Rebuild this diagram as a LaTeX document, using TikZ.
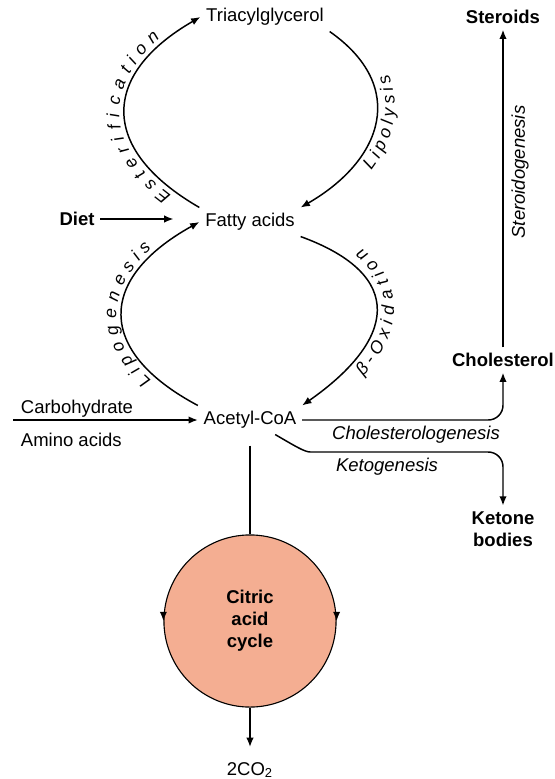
\documentclass[tikz,border=0pt]{standalone}
\usepackage{fontspec}
\setmainfont{Liberation Sans}
\usepackage{xcolor}
\usetikzlibrary{arrows.meta, positioning, decorations.text}

\definecolor{cyclefill}{RGB}{244,174,146}
\newcommand{\arcfont}{\fontsize{9.5}{11}\selectfont\itshape}

\begin{document}
\begin{tikzpicture}[
  x=0.019cm, y=0.019cm,
  >={Latex[length=5pt, width=4pt]},
  metab/.style={font=\fontsize{10}{12}\selectfont, inner sep=3pt},
  product/.style={metab, font=\fontsize{10}{12}\selectfont\bfseries, align=center},
  pathway/.style={font=\fontsize{10}{12}\selectfont\itshape},
  flow/.style={->, line width=0.8pt},
  arclabel/.style={decorate, decoration={text along path, text align={fit to path}, #1}},
]
\useasboundingbox (0,0) rectangle (555,-779);

% metabolites
\node[metab] (tag) at (265,-17) {Triacylglycerol};
\node[metab] (fatty) at (250,-222) {Fatty acids};
\node[metab] (acetyl) at (250,-420) {Acetyl-CoA};

% inputs
\node[product] (diet) at (77,-219) {Diet};
\node[metab, anchor=base west] (carb) at (15,-413) {Carbohydrate};
\node[metab, anchor=base west] (amino) at (15,-446) {Amino acids};
\coordinate (feed) at (13,-420);

% products
\node[product] (steroids) at (503,-17) {Steroids};
\node[product] (chol) at (503,-360) {Cholesterol};
\node[product] (ketone) at (503,-529) {Ketone\\bodies};
\node[circle, draw, line width=0.6pt, fill=cyclefill, minimum size=3.27cm, font=\fontsize{10}{12}\selectfont\bfseries, align=center] (cycle) at (250,-621) {Citric\\acid\\cycle};
\node[metab] (co2) at (250,-770) {2CO\textsubscript{2}};
\coordinate (ketobend) at (325,-452);

% lipid cycle
\draw[flow] (fatty.north west) to[out=150, in=210, looseness=1.55] (tag.west);
\draw[flow] (tag.south east) to[out=-35, in=30, looseness=1.37] (fatty.north east);
\draw[flow] (acetyl.north west) to[out=152, in=209, looseness=1.62] (fatty.west);
\draw[flow] (fatty.south east) to[out=-20, in=35, looseness=1.72] (acetyl.north east);

% arc labels
\path[arclabel={text={|\arcfont|Esterification}, raise=3pt, text align={left indent=16pt, right indent=24pt}}]
  (fatty.north west) to[out=150, in=210, looseness=1.55] (tag.west);
\path[arclabel={text={|\arcfont|Lipolysis}, raise=-9.5pt, text align={left indent=40pt, right indent=35pt}}]
  (fatty.north east) to[out=30, in=-35, looseness=1.37] (tag.south east);
\path[arclabel={text={|\arcfont|Lipogenesis}, raise=3pt, text align={left indent=28pt, right indent=29pt}}]
  (acetyl.north west) to[out=152, in=209, looseness=1.62] (fatty.west);
\path[arclabel={text={|\arcfont|β-Oxidation}, raise=-9.5pt, text align={left indent=34pt, right indent=30pt}}]
  (acetyl.north east) to[out=35, in=-20, looseness=1.72] (fatty.south east);

% feeds
\draw[flow, shorten >=14pt] (diet) -- (diet -| fatty.west);
\draw[flow] (feed) -- (acetyl.west);

% acetyl-CoA fates
\draw[flow, rounded corners=8pt] (acetyl.east) -| (chol.south);
\draw[flow, rounded corners=8pt] (acetyl.-30) to[out=-30, in=180] (ketobend) -| (ketone.north);
\draw[flow] (chol.north) -- (steroids.south);
\draw[line width=0.8pt, shorten <=6pt] (acetyl.south) -- (cycle.north);
\draw[flow] ([yshift=1pt]cycle.west) -- (cycle.west);
\draw[flow] ([yshift=1pt]cycle.east) -- (cycle.east);
\draw[flow, shorten >=5pt] (cycle.south) -- (co2.north);

% pathway labels
\node[pathway] (cholgen) at (416,-435) {Cholesterologenesis};
\node[pathway] (ketogen) at (387,-467) {Ketogenesis};
\node[pathway, rotate=90] (sterogen) at (520,-172) {Steroidogenesis};

\end{tikzpicture}
\end{document}
